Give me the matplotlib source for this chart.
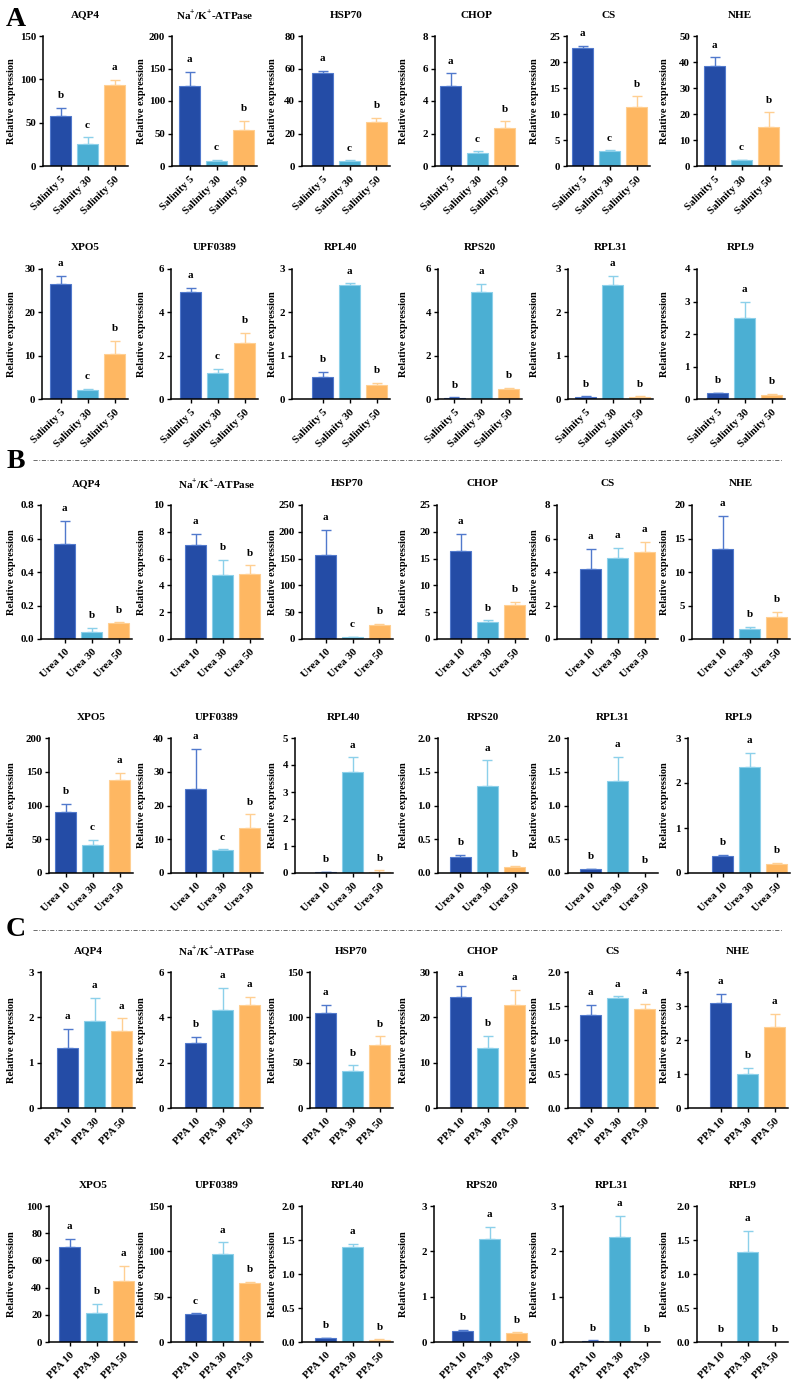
import matplotlib
matplotlib.use("Agg")
import matplotlib.pyplot as plt
from matplotlib.lines import Line2D
import numpy as np

plt.rcParams['font.family'] = ['Liberation Serif', 'DejaVu Serif']
plt.rcParams['font.weight'] = 'bold'
plt.rcParams['mathtext.fontset'] = 'custom'
plt.rcParams['mathtext.rm'] = 'Liberation Serif:bold'
plt.rcParams['mathtext.bf'] = 'Liberation Serif:bold'
plt.rcParams['axes.linewidth'] = 1.1

# ---------------- data ----------------
genes = ['AQP4', r'Na$^{+}$/K$^{+}$-ATPase', 'HSP70', 'CHOP', 'CS', 'NHE',
         'XPO5', 'UPF0389', 'RPL40', 'RPS20', 'RPL31', 'RPL9']

salinity_groups = ['Salinity 5', 'Salinity 30', 'Salinity 50']
salinity_mean = [[58, 25, 93], [123, 7, 55], [57, 3, 27], [4.9, 0.8, 2.35],
                 [22.6, 2.8, 11.4], [38.5, 2.2, 15.0],
                 [26.5, 2.1, 10.5], [4.93, 1.2, 2.6], [0.5, 2.62, 0.33],
                 [0.06, 4.92, 0.45], [0.05, 2.63, 0.05], [0.18, 2.5, 0.12]]
salinity_err = [[9, 8, 6], [22, 2, 14], [1.5, 0.5, 2.5], [0.8, 0.1, 0.4],
                [0.5, 0.2, 2.0], [3.3, 0.2, 5.6],
                [2.0, 0.3, 2.9], [0.19, 0.18, 0.45], [0.13, 0.05, 0.04],
                [0.02, 0.38, 0.05], [0.01, 0.21, 0.01], [0.02, 0.48, 0.03]]
salinity_sig = [['b', 'c', 'a'], ['a', 'c', 'b'], ['a', 'c', 'b'], ['a', 'c', 'b'],
                ['a', 'c', 'b'], ['a', 'c', 'b'],
                ['a', 'c', 'b'], ['a', 'c', 'b'], ['b', 'a', 'b'],
                ['b', 'a', 'b'], ['b', 'a', 'b'], ['b', 'a', 'b']]
salinity_ymax = [150, 200, 80, 8, 25, 50, 30, 6, 3, 6, 3, 4]
salinity_step = [50, 50, 20, 2, 5, 10, 10, 2, 1, 2, 1, 1]

urea_groups = ['Urea 10', 'Urea 30', 'Urea 50']
urea_mean = [[0.57, 0.043, 0.093], [7.0, 4.75, 4.85], [157, 3, 27], [16.5, 3.1, 6.3],
             [4.2, 4.83, 5.2], [13.4, 1.5, 3.3],
             [90, 41, 138], [24.8, 6.7, 13.3], [0.03, 3.75, 0.05],
             [0.23, 1.29, 0.09], [0.055, 1.37, 0.0], [0.38, 2.35, 0.19]]
urea_err = [[0.135, 0.022, 0.007], [0.85, 1.17, 0.65], [46, 1, 1.5], [3.1, 0.4, 0.6],
            [1.18, 0.62, 0.62], [5.0, 0.35, 0.7],
            [12, 8, 10], [12, 0.3, 4.1], [0.01, 0.53, 0.05],
            [0.04, 0.38, 0.01], [0.01, 0.35, 0.0], [0.02, 0.32, 0.03]]
urea_sig = [['a', 'b', 'b'], ['a', 'b', 'b'], ['a', 'c', 'b'], ['a', 'b', 'b'],
            ['a', 'a', 'a'], ['a', 'b', 'b'],
            ['b', 'c', 'a'], ['a', 'c', 'b'], ['b', 'a', 'b'],
            ['b', 'a', 'b'], ['b', 'a', 'b'], ['b', 'a', 'b']]
urea_ymax = [0.8, 10, 250, 25, 8, 20, 200, 40, 5, 2.0, 2.0, 3]
urea_step = [0.2, 2, 50, 5, 2, 5, 50, 10, 1, 0.5, 0.5, 1]

ppa_groups = ['PPA 10', 'PPA 30', 'PPA 50']
ppa_mean = [[1.33, 1.93, 1.7], [2.85, 4.33, 4.53], [105, 41, 69], [24.5, 13.2, 22.8],
            [1.37, 1.62, 1.45], [3.08, 1.0, 2.37],
            [70, 21.5, 44.5], [30.5, 97, 65], [0.06, 1.4, 0.03],
            [0.24, 2.28, 0.2], [0.03, 2.32, 0.0], [0.0, 1.33, 0.0]]
ppa_err = [[0.42, 0.5, 0.28], [0.28, 0.97, 0.37], [9, 6, 10], [2.4, 2.7, 3.3],
           [0.15, 0.02, 0.08], [0.27, 0.18, 0.4],
           [6, 6.5, 11.5], [1, 13, 1], [0.005, 0.04, 0.01],
           [0.03, 0.26, 0.01], [0.005, 0.46, 0.0], [0.0, 0.3, 0.0]]
ppa_sig = [['a', 'a', 'a'], ['b', 'a', 'a'], ['a', 'b', 'b'], ['a', 'b', 'a'],
           ['a', 'a', 'a'], ['a', 'b', 'a'],
           ['a', 'b', 'a'], ['c', 'a', 'b'], ['b', 'a', 'b'],
           ['b', 'a', 'b'], ['b', 'a', 'b'], ['b', 'a', 'b']]
ppa_ymax = [3, 6, 150, 30, 2.0, 4, 100, 150, 2.0, 3, 3, 2.0]
ppa_step = [1, 2, 50, 10, 0.5, 1, 20, 50, 0.5, 1, 1, 0.5]

bar_colors = ['#244CA6', '#4BAFD3', '#FEB762']
edge_colors = ['#5179CC', '#8CD0EA', '#FFCF92']

# ---------------- layout (pixels) ----------------
W, H = 794, 1391
row_lefts = [[43, 172, 302, 435, 567, 697],
             [42, 171, 292, 438, 568, 697],
             [41, 171, 302, 437, 557, 692],
             [49, 171, 295, 438, 568, 688],
             [41, 171, 310, 437, 568, 688],
             [49, 171, 302, 434, 563, 697]]
row_rights = [[128, 257, 390, 518, 650, 782],
              [128, 258, 390, 522, 653, 785],
              [132, 263, 393, 528, 658, 790],
              [133, 263, 393, 528, 658, 790],
              [135, 263, 393, 528, 658, 788],
              [137, 263, 393, 530, 660, 788]]
row_tb = [(36, 166), (269, 399), (505, 639), (738, 873), (972, 1108), (1206, 1342)]
ylab_x = [16, 146, 277, 408, 539, 669]
bar_spacing_px = 27.0

fig = plt.figure(figsize=(W / 100, H / 100), dpi=100)

treatments = [
    (salinity_groups, salinity_mean, salinity_err, salinity_sig, salinity_ymax, salinity_step),
    (urea_groups, urea_mean, urea_err, urea_sig, urea_ymax, urea_step),
    (ppa_groups, ppa_mean, ppa_err, ppa_sig, ppa_ymax, ppa_step),
]

for t, (groups, means, errs, sigs, ymaxs, steps) in enumerate(treatments):
    for half in range(2):
        r = t * 2 + half
        top, bot = row_tb[r]
        for c in range(6):
            g = half * 6 + c
            L, R = row_lefts[r][c], row_rights[r][c]
            ax = fig.add_axes([L / W, 1 - bot / H, (R - L) / W, (bot - top) / H])
            x = np.arange(3)
            m = means[g]
            e = errs[g]
            ax.bar(x, m, width=0.78, color=bar_colors, edgecolor=edge_colors,
                   linewidth=0.8, zorder=2)
            for i in range(3):
                if e[i] > 0:
                    ax.errorbar(x[i], m[i], yerr=[[0], [e[i]]], fmt='none',
                                ecolor=edge_colors[i], elinewidth=1.0,
                                capsize=3.5, capthick=1.0, zorder=1)
                ax.annotate(sigs[g][i], (x[i], m[i] + e[i]), xytext=(0, 7),
                            textcoords='offset points', ha='center', va='baseline',
                            fontsize=8, fontweight='bold')
            ymax = ymaxs[g]
            step = steps[g]
            ax.set_ylim(0, ymax)
            width_px = R - L
            ax.set_xlim(2.5 - width_px / bar_spacing_px, 2.5)
            ticks = np.arange(0, ymax + step / 2, step)
            ax.set_yticks(ticks)
            if step < 1:
                ax.set_yticklabels([f'{v:.1f}' for v in ticks])
            else:
                ax.set_yticklabels([f'{int(round(v))}' for v in ticks])
            ax.set_xticks(x)
            ax.set_xticklabels(groups, rotation=45, ha='right', rotation_mode='anchor')
            ax.tick_params(axis='both', labelsize=7.8, width=1.0, length=3, pad=2)
            ax.tick_params(axis='x', pad=3)
            for s in ['top', 'right']:
                ax.spines[s].set_visible(False)
            h_px = bot - top
            ax.text(0.5, 1 + 21 / h_px, genes[g], transform=ax.transAxes,
                    ha='center', va='center', fontsize=8, fontweight='bold')
            ax.set_ylabel('Relative expression', fontsize=7.5, fontweight='bold')
            ax.yaxis.set_label_coords((ylab_x[c] - L) / width_px, 0.5)

# panel letters and separators
for lab, ypx in [('A', 19), ('B', 461), ('C', 930)]:
    fig.text(16 / W, 1 - ypx / H, lab, fontsize=20, fontweight='bold',
             ha='center', va='center')
for ypx in [460, 930]:
    fig.add_artist(Line2D([33 / W, 782 / W], [1 - ypx / H, 1 - ypx / H],
                          transform=fig.transFigure, color='#555555',
                          linewidth=0.6, linestyle=(0, (5, 2, 1, 2))))

fig.savefig('out.png', dpi=100, facecolor='white')
